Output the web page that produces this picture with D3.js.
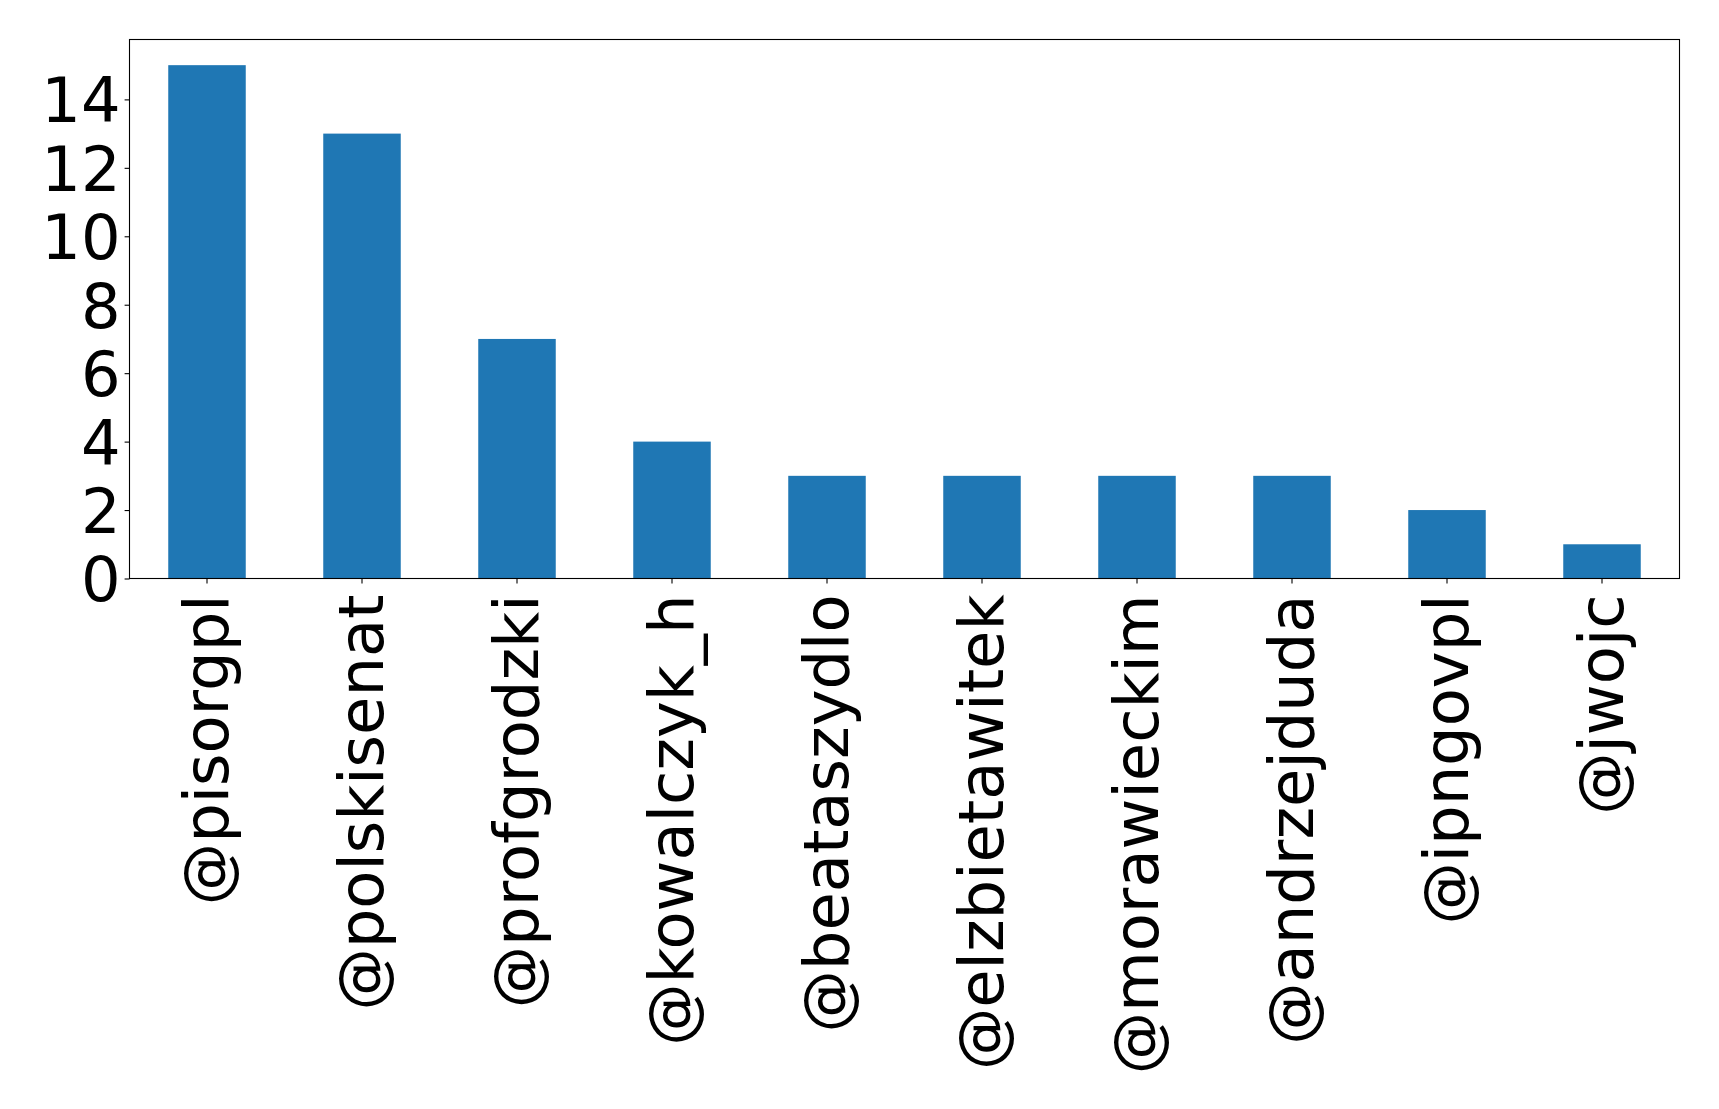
<!DOCTYPE html>
<html>
<head>
<meta charset="utf-8">
<script src="https://d3js.org/d3.v7.min.js"></script>
<style>
  body { margin: 0; background: #fff; }
  svg text { font-family: "DejaVu Sans", sans-serif; }
</style>
</head>
<body>
<div id="chart"></div>
<script>
const handles = ["@pisorgpl", "@polskisenat", "@profgrodzki", "@kowalczyk_h", "@beataszydlo",
                 "@elzbietawitek", "@morawieckim", "@andrzejduda", "@ipngovpl", "@jwojc"];
const counts = [15, 13, 7, 4, 3, 3, 3, 3, 2, 1];
const yTicks = [0, 2, 4, 6, 8, 10, 12, 14];

const width = 1719, height = 1109;
const margin = { top: 39.5, right: 39.5, bottom: 530.5, left: 129.5 };
const fontSize = 62.3;

const svg = d3.select("#chart").append("svg")
    .attr("width", width)
    .attr("height", height);

const x = d3.scaleBand()
    .domain(handles)
    .range([margin.left, width - margin.right])
    .paddingInner(0.5)
    .paddingOuter(0.25);

const y = d3.scaleLinear()
    .domain([0, d3.max(counts) * 1.05])
    .range([height - margin.bottom, margin.top]);

// bars
svg.append("g").selectAll("rect").data(counts).join("rect")
    .attr("x", (d, i) => x(handles[i]))
    .attr("y", d => y(d))
    .attr("width", x.bandwidth())
    .attr("height", d => y(0) - y(d))
    .attr("fill", "#1f77b4");

// y axis
const yAxis = svg.append("g")
    .attr("transform", `translate(${margin.left},0)`)
    .call(d3.axisLeft(y).tickValues(yTicks).tickSize(4.9).tickPadding(4).tickFormat(d3.format("d")));
yAxis.select(".domain").remove();
yAxis.selectAll("line").attr("stroke", "#000").attr("stroke-width", 1.1);
yAxis.selectAll("text").attr("font-size", fontSize).attr("fill", "#000")
    .attr("font-family", "DejaVu Sans").attr("dy", "0.36em");

// x axis
const xAxis = svg.append("g")
    .attr("transform", `translate(0,${y(0)})`)
    .call(d3.axisBottom(x).tickSize(4.9).tickPadding(0));
xAxis.select(".domain").remove();
xAxis.selectAll("line").attr("stroke", "#000").attr("stroke-width", 1.1);
xAxis.selectAll("text")
    .attr("font-size", fontSize)
    .attr("fill", "#000")
    .attr("font-family", "DejaVu Sans")
    .attr("text-anchor", "end")
    .attr("transform", "translate(0,16) rotate(-90)")
    .attr("x", 0)
    .attr("y", 0)
    .attr("dy", "0.34em");

// frame
svg.append("rect")
    .attr("x", margin.left)
    .attr("y", margin.top)
    .attr("width", width - margin.left - margin.right)
    .attr("height", height - margin.top - margin.bottom)
    .attr("fill", "none")
    .attr("stroke", "#000")
    .attr("stroke-width", 1.1);
</script>
</body>
</html>
